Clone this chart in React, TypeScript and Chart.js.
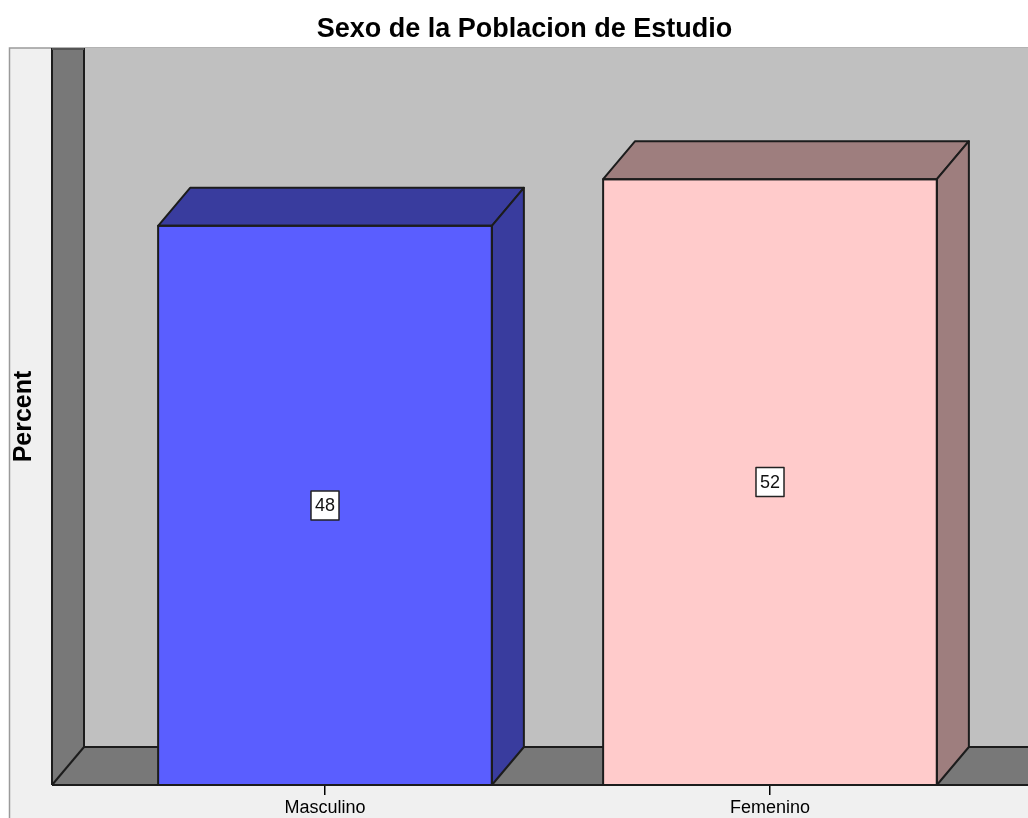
import React, { useEffect, useRef } from "react";
import { Chart, registerables } from "chart.js";

Chart.register(...registerables);

const TITLE = "Sexo de la Poblacion de Estudio";
const Y_TITLE = "Percent";
const categories = ["Masculino", "Femenino"];
const percentValues = [48, 52];
const valueLabels = ["48", "52"];
const frontColors = ["#5a5eff", "#ffcbcb"];
const shadeColors = ["#393c9e", "#9e7e7e"];
const Y_MIN = 0;
const Y_MAX = 60;

const FONT = "'Liberation Sans', Arial, Helvetica, sans-serif";
const DEPTH_X = 32;
const DEPTH_Y = 38;
const WALL_GAP = 50.5;
const FRAME_LEFT = 9;
const EDGE = "#1c1c1c";

function poly(ctx: CanvasRenderingContext2D, pts: number[][], fill: string | null, stroke: string | null, lw = 2) {
  ctx.beginPath();
  ctx.moveTo(pts[0][0], pts[0][1]);
  for (let i = 1; i < pts.length; i++) ctx.lineTo(pts[i][0], pts[i][1]);
  ctx.closePath();
  if (fill) {
    ctx.fillStyle = fill;
    ctx.fill();
  }
  if (stroke) {
    ctx.strokeStyle = stroke;
    ctx.lineWidth = lw;
    ctx.lineJoin = "round";
    ctx.stroke();
  }
}

function line(ctx: CanvasRenderingContext2D, x1: number, y1: number, x2: number, y2: number) {
  ctx.beginPath();
  ctx.moveTo(x1, y1);
  ctx.lineTo(x2, y2);
  ctx.stroke();
}

const threeD = {
  id: "threeD",
  beforeDraw(chart: any) {
    const { ctx, width, height } = chart;
    const yS = chart.scales.y;
    const frameTop = yS.getPixelForValue(Y_MAX) - DEPTH_Y;
    ctx.save();
    ctx.fillStyle = "#ffffff";
    ctx.fillRect(0, 0, width, height);
    ctx.fillStyle = "#f0f0f0";
    ctx.fillRect(FRAME_LEFT, frameTop, width - FRAME_LEFT, height - frameTop);
    ctx.strokeStyle = "#9a9a9a";
    ctx.lineWidth = 1.5;
    ctx.beginPath();
    ctx.moveTo(FRAME_LEFT + 0.5, height);
    ctx.lineTo(FRAME_LEFT + 0.5, frameTop);
    ctx.lineTo(width, frameTop);
    ctx.stroke();
    ctx.restore();
  },
  beforeDatasetsDraw(chart: any) {
    const { ctx, width, chartArea } = chart;
    const yS = chart.scales.y;
    const floorFront = yS.getPixelForValue(Y_MIN);
    const floorBack = floorFront - DEPTH_Y;
    const top = yS.getPixelForValue(Y_MAX) - DEPTH_Y;
    const wl = chartArea.left - WALL_GAP;
    const wb = wl + DEPTH_X;
    ctx.save();
    ctx.fillStyle = "#c0c0c0";
    ctx.fillRect(wb, top, width - wb, floorBack - top);
    poly(ctx, [[wl, top], [wb, top], [wb, floorBack], [wl, floorFront]], "#787878", null);
    poly(ctx, [[wl, floorFront], [wb, floorBack], [width, floorBack], [width, floorFront]], "#787878", null);
    ctx.strokeStyle = EDGE;
    ctx.lineWidth = 2;
    line(ctx, wl, top, wl, floorFront);
    line(ctx, wb, top, wb, floorBack);
    line(ctx, wb, floorBack, width, floorBack);
    line(ctx, wl, floorFront, width, floorFront);
    line(ctx, wl, floorFront, wb, floorBack);
    ctx.strokeStyle = "#555";
    line(ctx, wl, top + 1, wb, top + 1);
    ctx.restore();
  },
  afterDatasetsDraw(chart: any) {
    const { ctx } = chart;
    const meta = chart.getDatasetMeta(0);
    ctx.save();
    meta.data.forEach((bar: any, i: number) => {
      const L = bar.x - bar.width / 2;
      const R = bar.x + bar.width / 2;
      const T = bar.y;
      const B = bar.base;
      poly(ctx, [[L, T], [L + DEPTH_X, T - DEPTH_Y], [R + DEPTH_X, T - DEPTH_Y], [R, T]], shadeColors[i], EDGE);
      poly(ctx, [[R, T], [R + DEPTH_X, T - DEPTH_Y], [R + DEPTH_X, B - DEPTH_Y], [R, B]], shadeColors[i], EDGE);
      ctx.strokeStyle = EDGE;
      ctx.lineWidth = 2;
      ctx.strokeRect(L, T, R - L, B - T);
      ctx.font = `18px ${FONT}`;
      const tw = ctx.measureText(valueLabels[i]).width;
      const bw = tw + 8;
      const bh = 29;
      const cx = bar.x;
      const cy = (T + B) / 2;
      ctx.fillStyle = "#ffffff";
      ctx.fillRect(cx - bw / 2, cy - bh / 2, bw, bh);
      ctx.strokeStyle = "#222";
      ctx.lineWidth = 1.5;
      ctx.strokeRect(cx - bw / 2, cy - bh / 2, bw, bh);
      ctx.fillStyle = "#111";
      ctx.textAlign = "center";
      ctx.textBaseline = "middle";
      ctx.fillText(valueLabels[i], cx, cy + 1);
    });
    ctx.restore();
  },
  afterDraw(chart: any) {
    const { ctx } = chart;
    const yS = chart.scales.y;
    const floorFront = yS.getPixelForValue(Y_MIN);
    const top = yS.getPixelForValue(Y_MAX) - DEPTH_Y;
    ctx.save();
    ctx.translate(24, (top + floorFront) / 2);
    ctx.rotate(-Math.PI / 2);
    ctx.font = `bold 25px ${FONT}`;
    ctx.fillStyle = "#000";
    ctx.textAlign = "center";
    ctx.textBaseline = "middle";
    ctx.fillText(Y_TITLE, 0, 0);
    ctx.restore();
  },
};

export default function App() {
  const ref = useRef<HTMLCanvasElement | null>(null);
  useEffect(() => {
    if (!ref.current) return;
    const chart = new Chart(ref.current, {
      type: "bar",
      data: {
        labels: categories,
        datasets: [
          {
            data: percentValues,
            backgroundColor: frontColors,
            borderWidth: 0,
            barPercentage: 0.75,
            categoryPercentage: 1,
            yAxisID: "y",
          },
        ],
      },
      options: {
        responsive: false,
        animation: false,
        devicePixelRatio: 1,
        layout: { padding: 0 },
        plugins: {
          legend: { display: false },
          tooltip: { enabled: false },
          title: {
            display: true,
            text: TITLE,
            color: "#000",
            font: { family: FONT, size: 27, weight: "bold", lineHeight: 1.2 },
            padding: { top: 13, bottom: 40.6 },
          },
        },
        scales: {
          x: {
            grid: {
              display: true,
              drawOnChartArea: false,
              drawTicks: true,
              tickLength: 10,
              color: "#000",
              lineWidth: 1.5,
              offset: false,
            },
            border: { display: false },
            ticks: { color: "#000", font: { family: FONT, size: 18 }, padding: 2 },
            afterFit: (s: any) => {
              s.height = 33;
            },
          },
          y: {
            position: "left",
            display: true,
            min: Y_MIN,
            max: Y_MAX,
            grid: { display: false },
            border: { display: false },
            ticks: { display: false },
            afterFit: (s: any) => {
              s.width = 102.5;
            },
          },
          yRight: {
            position: "right",
            display: true,
            grid: { display: false },
            border: { display: false },
            ticks: { display: false },
            afterFit: (s: any) => {
              s.width = 56.5;
            },
          },
        },
      },
      plugins: [threeD],
    } as any);
    return () => chart.destroy();
  }, []);
  return (
    <div style={{ position: "absolute", left: 0, top: 0, width: 1028, height: 818, overflow: "hidden" }}>
      <canvas ref={ref} width={1049} height={818} style={{ display: "block" }} />
    </div>
  );
}
